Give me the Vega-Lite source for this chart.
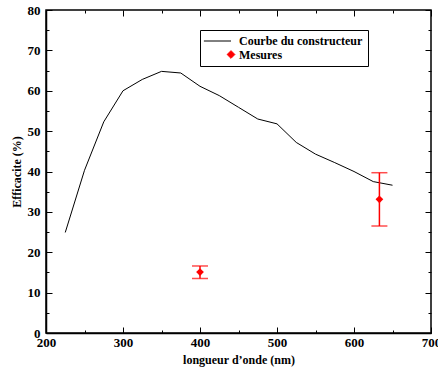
{
  "$schema": "https://vega.github.io/schema/vega-lite/v6.json",
  "width": 385,
  "height": 323,
  "autosize": "none",
  "padding": {"left": 46, "top": 10, "right": 7, "bottom": 34},
  "background": "white",
  "config": {
    "font": "Liberation Serif",
    "view": {"stroke": "black", "strokeWidth": 1.5},
    "legend": {
      "strokeColor": "black",
      "fillColor": "white",
      "strokeWidth": 1,
      "padding": 5
    },
    "axis": {
      "grid": false,
      "domainColor": "black",
      "domainWidth": 1.5,
      "tickColor": "black",
      "tickWidth": 1,
      "labelColor": "black",
      "labelFont": "Liberation Serif",
      "labelFontWeight": "bold",
      "labelFontSize": 13,
      "labelFlush": false,
      "labelOverlap": false,
      "titleColor": "black",
      "titleFont": "Liberation Serif",
      "titleFontWeight": "bold",
      "titleFontSize": 12
    }
  },
  "datasets": {
    "curve": [
      {"lambda": 225, "eff": 24.9, "serie": "Courbe du constructeur"},
      {"lambda": 250, "eff": 40.3, "serie": "Courbe du constructeur"},
      {"lambda": 275, "eff": 52.3, "serie": "Courbe du constructeur"},
      {"lambda": 300, "eff": 60.0, "serie": "Courbe du constructeur"},
      {"lambda": 325, "eff": 62.8, "serie": "Courbe du constructeur"},
      {"lambda": 350, "eff": 64.8, "serie": "Courbe du constructeur"},
      {"lambda": 375, "eff": 64.4, "serie": "Courbe du constructeur"},
      {"lambda": 400, "eff": 61.1, "serie": "Courbe du constructeur"},
      {"lambda": 425, "eff": 58.8, "serie": "Courbe du constructeur"},
      {"lambda": 450, "eff": 55.9, "serie": "Courbe du constructeur"},
      {"lambda": 475, "eff": 53.0, "serie": "Courbe du constructeur"},
      {"lambda": 500, "eff": 51.8, "serie": "Courbe du constructeur"},
      {"lambda": 525, "eff": 47.2, "serie": "Courbe du constructeur"},
      {"lambda": 550, "eff": 44.3, "serie": "Courbe du constructeur"},
      {"lambda": 575, "eff": 42.2, "serie": "Courbe du constructeur"},
      {"lambda": 600, "eff": 40.0, "serie": "Courbe du constructeur"},
      {"lambda": 625, "eff": 37.5, "serie": "Courbe du constructeur"},
      {"lambda": 650, "eff": 36.6, "serie": "Courbe du constructeur"}
    ],
    "mesures": [
      {"lambda": 400, "eff": 15.1, "lo": 13.5, "hi": 16.6, "serie": "Mesures"},
      {"lambda": 633, "eff": 33.1, "lo": 26.5, "hi": 39.7, "serie": "Mesures"}
    ]
  },
  "resolve": {"axis": {"x": "independent", "y": "independent"}},
  "layer": [
    {
      "data": {"name": "curve"},
      "mark": {"type": "line", "strokeWidth": 1},
      "encoding": {
        "x": {
          "field": "lambda", "type": "quantitative",
          "scale": {"domain": [200, 700], "nice": false},
          "axis": {
            "orient": "bottom",
            "values": [200, 250, 300, 350, 400, 450, 500, 550, 600, 650, 700],
            "labelExpr": "datum.value % 100 ? '' : datum.label",
            "labelFont": "Liberation Serif",
            "labelFontWeight": "bold",
            "tickSize": {"condition": {"test": "datum.value % 100", "value": -3}, "value": -6},
            "labelPadding": 9,
            "title": "longueur d’onde (nm)",
            "titlePadding": 2
          }
        },
        "y": {
          "field": "eff", "type": "quantitative",
          "scale": {"domain": [0, 80], "nice": false},
          "axis": {
            "orient": "left",
            "values": [0, 5, 10, 15, 20, 25, 30, 35, 40, 45, 50, 55, 60, 65, 70, 75, 80],
            "labelExpr": "datum.value % 10 ? '' : datum.label",
            "labelFont": "Liberation Serif",
            "labelFontWeight": "bold",
            "tickSize": {"condition": {"test": "datum.value % 10", "value": -3}, "value": -6},
            "labelPadding": 12,
            "title": "Efficacite (%)",
            "titlePadding": 4
          }
        },
        "color": {
          "field": "serie", "type": "nominal",
          "scale": {"domain": ["Courbe du constructeur", "Mesures"], "range": ["black", "red"]},
          "legend": {
            "title": null,
            "orient": "none",
            "legendX": 154,
            "legendY": 20,
            "strokeColor": "black",
            "fillColor": "white",
            "padding": 5,
            "labelFont": "Liberation Serif",
            "labelFontWeight": "bold",
            "labelFontSize": 12,
            "labelColor": "black",
            "symbolSize": 60,
            "symbolOffset": 20,
            "rowPadding": 1.5,
            "labelOffset": 2,
            "symbolStrokeWidth": 1,
            "encode": {
              "symbols": {
                "update": {
                  "stroke": {"signal": "datum.value === 'Mesures' ? 'red' : 'black'"},
                  "fill": {"signal": "datum.value === 'Mesures' ? 'red' : 'transparent'"},
                  "strokeWidth": {"value": 1}
                }
              }
            }
          }
        }
      }
    },
    {
      "data": {"name": "mesures"},
      "mark": {"type": "rule", "color": "red", "strokeWidth": 1.5},
      "encoding": {
        "x": {
          "field": "lambda", "type": "quantitative",
          "axis": {
            "orient": "top",
            "values": [200, 250, 300, 350, 400, 450, 500, 550, 600, 650, 700],
            "labels": false,
            "domain": false,
            "tickSize": {"condition": {"test": "datum.value % 100", "value": -3}, "value": -6},
            "title": null
          }
        },
        "y": {
          "field": "lo", "type": "quantitative",
          "axis": {
            "orient": "right",
            "values": [0, 5, 10, 15, 20, 25, 30, 35, 40, 45, 50, 55, 60, 65, 70, 75, 80],
            "labels": false,
            "domain": false,
            "tickSize": {"condition": {"test": "datum.value % 10", "value": -3}, "value": -6},
            "title": null
          }
        },
        "y2": {"field": "hi"}
      }
    },
    {
      "data": {"name": "mesures"},
      "mark": {"type": "tick", "orient": "horizontal", "color": "red", "size": 16, "thickness": 1.5},
      "encoding": {
        "x": {"field": "lambda", "type": "quantitative", "axis": null},
        "y": {"field": "lo", "type": "quantitative", "axis": null}
      }
    },
    {
      "data": {"name": "mesures"},
      "mark": {"type": "tick", "orient": "horizontal", "color": "red", "size": 16, "thickness": 1.5},
      "encoding": {
        "x": {"field": "lambda", "type": "quantitative", "axis": null},
        "y": {"field": "hi", "type": "quantitative", "axis": null}
      }
    },
    {
      "data": {"name": "mesures"},
      "mark": {"type": "point", "filled": true, "size": 60, "opacity": 1},
      "encoding": {
        "x": {"field": "lambda", "type": "quantitative", "axis": null},
        "y": {"field": "eff", "type": "quantitative", "axis": null},
        "color": {"field": "serie", "type": "nominal"},
        "shape": {
          "field": "serie", "type": "nominal",
          "scale": {"domain": ["Courbe du constructeur", "Mesures"], "range": ["M-7,0H0", "diamond"]},
          "legend": null
        }
      }
    }
  ]
}
